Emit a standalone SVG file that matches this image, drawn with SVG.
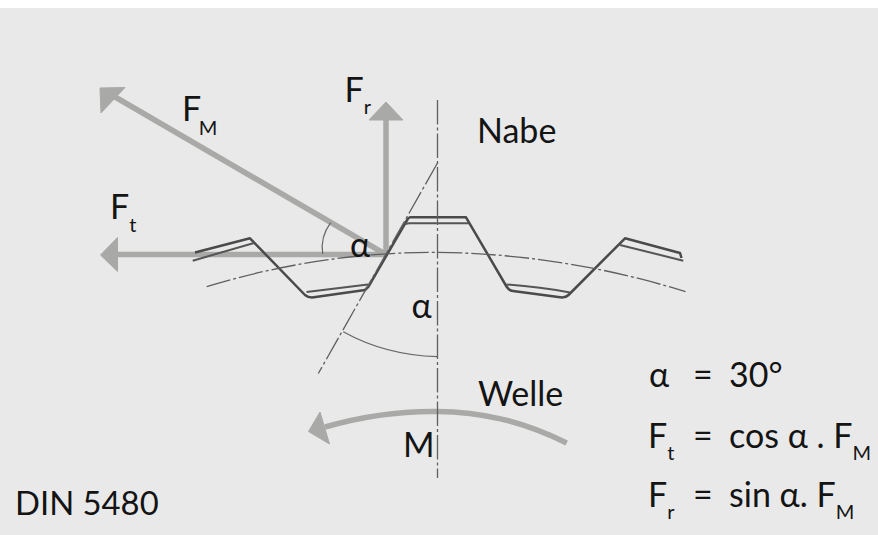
<svg xmlns="http://www.w3.org/2000/svg" width="878" height="535" viewBox="0 0 878 535">
<defs><style>
text{font-family:Lato,"Open Sans","Liberation Sans",sans-serif;fill:#141414;font-size:34px}
.s{font-size:20px}
.f{fill:none;stroke:#a9a9a7;stroke-width:5.5}
.h{fill:#a9a9a7;stroke:#a9a9a7;stroke-width:1;stroke-linejoin:round}
.g{fill:none;stroke:#4a4a4a;stroke-width:2.5;stroke-linejoin:round}
.g2{fill:none;stroke:#555;stroke-width:2;stroke-linejoin:round}
.c{fill:none;stroke:#5f5f5f;stroke-width:1.3;stroke-dasharray:24.500 3 3 3}
.a{fill:none;stroke:#666;stroke-width:1.2}
</style></defs>
<rect width="878" height="535" fill="#e9e9e9"/>
<rect width="878" height="8" fill="#fff"/>
<g id="connectors">
<g id="force-fm"><path class="f" d="M385 254L110 94"/><polygon class="h" points="100,88 125,87.5 101,113"/></g>
<g id="force-fr"><path class="f" d="M386 254V118"/><polygon class="h" points="386,102 369,120 403,120"/></g>
<g id="force-ft"><path class="f" d="M385 254.5H115"/><polygon class="h" points="100.500,255 117.500,237.500 117.500,271.500"/></g>
<g id="moment"><path class="f" d="M566.700 443C520 420 480 412 437 411.500C400 411 360 417 325 427"/><polygon class="h" points="308.500,431.500 320,412 329.500,444"/></g>
</g>
<g id="profile">
<path class="g" d="M195 252.500L250 238.300L305 295Q308 297.500 312 297.500L365 290L368.500 286.500L408 218.500L410 217.300H466L506.500 286.500Q509 290.500 513 291L562 297.500Q566 297.500 568.500 295L625 238.300L680 253L681.500 258"/>
<path class="g2" d="M192.700 260.700L254 243M306.500 292L368 284.500M405 224L409 223.300H469M506.500 284.500Q540 287 570 292.500M620 245L683.300 260.700"/>
</g>
<g id="geometry">
<path class="c" d="M437.500 100V478"/>
<path class="c" d="M206.700 286.700Q320 252 437.500 252.300Q565 254 685.500 291.700"/>
<path class="c" d="M437.500 163L318.300 373.500"/>
<path class="a" d="M343.300 331.700Q385 355 437.500 356.700"/>
<path class="a" d="M330.700 222.700Q320 237 322.700 254"/>
</g>
<g id="labels">
<text x="182" y="121">F<tspan class="s" dy="13.500" dx="-2.500">M</tspan></text>
<text x="344.500" y="101.500">F<tspan class="s" dy="12.500">r</tspan></text>
<text x="110" y="218.500">F<tspan class="s" dy="13">t</tspan></text>
<text x="477" y="143">Nabe</text>
<text x="350" y="256.500">α</text>
<text x="411.500" y="318">α</text>
<text x="478" y="405.500">Welle</text>
<text x="403" y="456.500">M</text>
<text x="15" y="515" style="font-size:32.800px">DIN 5480</text>
<text x="649" y="386.500">α</text><text x="693" y="386.500">=</text><text x="729" y="386.500">30°</text>
<text x="648" y="447.500">F<tspan class="s" dy="12.500">t</tspan></text><text x="693" y="447.500">=</text><text x="729" y="447.500">cos α . F<tspan class="s" dy="12.500">M</tspan></text>
<text x="648" y="506.500">F<tspan class="s" dy="12.500">r</tspan></text><text x="693" y="506.500">=</text><text x="729" y="506.500">sin α. F<tspan class="s" dy="12.500">M</tspan></text>
</g>
</svg>
